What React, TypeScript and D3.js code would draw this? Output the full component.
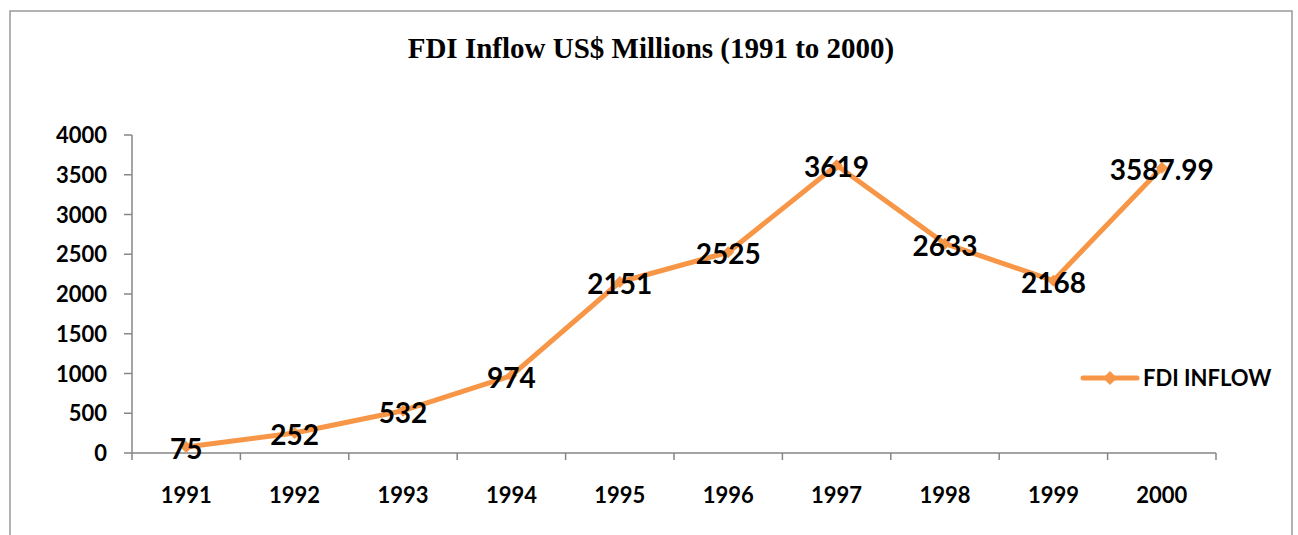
import React from "react";
import * as d3 from "d3";

const years = ["1991", "1992", "1993", "1994", "1995", "1996", "1997", "1998", "1999", "2000"];
const fdiInflow = [75, 252, 532, 974, 2151, 2525, 3619, 2633, 2168, 3587.99];
const yTicks = [0, 500, 1000, 1500, 2000, 2500, 3000, 3500, 4000];
const seriesName = "FDI INFLOW";
const title = "FDI Inflow US$ Millions (1991 to 2000)";

const W = 1298;
const H = 535;
const left = 132;
const right = 1216;
const top = 135;
const bottom = 453;
const orange = "#F79646";
const axisColor = "#868686";
const sans = "Lato, 'Open Sans', sans-serif";

export default function App() {
  const x = d3.scaleBand<string>().domain(years).range([left, right]).padding(0);
  const y = d3.scaleLinear().domain([0, 4000]).range([bottom, top]);
  const cx = (d: string) => (x(d) as number) + x.bandwidth() / 2;
  const pts: [number, number][] = years.map((d, i) => [cx(d), y(fdiInflow[i])]);
  const line = d3.line<[number, number]>()(pts) as string;
  const boundaries = d3.range(years.length + 1).map((i) => left + i * x.bandwidth());
  const diamond = (px: number, py: number, s: number) =>
    `M${px},${py - s}L${px + s},${py}L${px},${py + s}L${px - s},${py}Z`;

  return (
    <svg
      width={W}
      height={H}
      style={{ position: "absolute", left: 0, top: 0, background: "#fff" }}
    >
      <rect x={10} y={11} width={1282} height={600} fill="#fff" stroke="#999" strokeWidth={1.5} />
      <text
        x={651}
        y={58}
        textAnchor="middle"
        fontFamily="'Liberation Serif', 'Times New Roman', serif"
        fontWeight="bold"
        fontSize={29}
        fill="#000"
      >
        {title}
      </text>

      {/* y axis */}
      <line x1={left} x2={left} y1={top} y2={bottom} stroke={axisColor} strokeWidth={1.5} />
      {yTicks.map((t) => (
        <g key={t}>
          <line x1={left - 8} x2={left} y1={y(t)} y2={y(t)} stroke={axisColor} strokeWidth={1.5} />
          <text
            x={107}
            y={y(t) + 8}
            textAnchor="end"
            fontFamily={sans}
            fontWeight="bold"
            fontSize={22}
            fill="#000"
          >
            {t}
          </text>
        </g>
      ))}

      {/* x axis */}
      <line x1={left} x2={right} y1={bottom} y2={bottom} stroke={axisColor} strokeWidth={1.5} />
      {boundaries.map((b, i) => (
        <line key={i} x1={b} x2={b} y1={bottom} y2={bottom + 7} stroke={axisColor} strokeWidth={1.5} />
      ))}
      {years.map((d) => (
        <text
          key={d}
          x={cx(d)}
          y={503}
          textAnchor="middle"
          fontFamily={sans}
          fontWeight="bold"
          fontSize={22}
          fill="#000"
        >
          {d}
        </text>
      ))}

      {/* series */}
      <path d={line} fill="none" stroke={orange} strokeWidth={5} strokeLinejoin="round" strokeLinecap="round" />
      {pts.map(([px, py], i) => (
        <path key={i} d={diamond(px, py, 6)} fill={orange} />
      ))}
      {pts.map(([px, py], i) => (
        <text
          key={i}
          x={px}
          y={py + 12}
          textAnchor="middle"
          fontFamily={sans}
          fontWeight="bold"
          fontSize={28}
          fill="#000"
        >
          {fdiInflow[i]}
        </text>
      ))}

      {/* legend */}
      <line x1={1083} x2={1137} y1={378} y2={378} stroke={orange} strokeWidth={5} strokeLinecap="round" />
      <path d={diamond(1110, 378, 7)} fill={orange} />
      <text x={1143} y={386} fontFamily={sans} fontWeight="bold" fontSize={22} fill="#000">
        {seriesName}
      </text>
    </svg>
  );
}
